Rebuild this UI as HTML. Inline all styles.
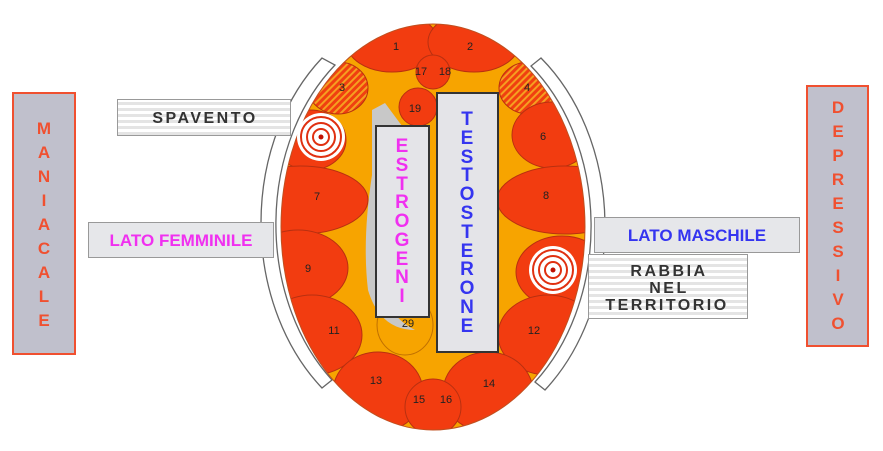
<!DOCTYPE html>
<html><head><meta charset="utf-8"><style>
html,body{margin:0;padding:0;background:#fff;}
svg{display:block;font-family:"Liberation Sans","DejaVu Sans",sans-serif;}
</style></head><body>
<svg width="883" height="451" viewBox="0 0 883 451" xmlns="http://www.w3.org/2000/svg">
<defs>
<clipPath id="ov"><ellipse cx="433" cy="227" rx="152" ry="203"/></clipPath>
<pattern id="stripe" width="6" height="6" patternUnits="userSpaceOnUse"><rect width="6" height="6" fill="#fff"/><rect y="0" width="6" height="3" fill="#e4e4e4"/></pattern>
<pattern id="hatch" width="5" height="5" patternUnits="userSpaceOnUse" patternTransform="rotate(45)"><rect width="5" height="5" fill="#f04010"/><rect width="2" height="5" fill="#f5a020"/></pattern>
</defs>
<path d="M322,58 A170,215 0 0 0 322,388 L332,380 A160,205 0 0 1 335,65 Z" fill="#fff" stroke="#666" stroke-width="1.3"/>
<path d="M541,58 A170,215 0 0 1 545,390 L535,382 A160,205 0 0 0 531,66 Z" fill="#fff" stroke="#666" stroke-width="1.3"/>
<ellipse cx="433" cy="227" rx="152" ry="203" fill="#f7a400"/>
<g clip-path="url(#ov)" fill="#f23c10" stroke="#b83010" stroke-width="1">
<ellipse cx="392" cy="42" rx="46" ry="30"/>
<ellipse cx="474" cy="42" rx="46" ry="30"/>
<circle cx="433" cy="72" r="17"/>
<ellipse cx="338" cy="88" rx="30" ry="26" fill="url(#hatch)"/>
<ellipse cx="529" cy="88" rx="30" ry="26" fill="url(#hatch)"/>
<circle cx="418" cy="107" r="19"/>
<ellipse cx="310" cy="140" rx="36" ry="30"/>
<ellipse cx="552" cy="135" rx="40" ry="33"/>
<ellipse cx="300" cy="200" rx="68" ry="34"/>
<ellipse cx="565" cy="200" rx="68" ry="34"/>
<ellipse cx="298" cy="268" rx="50" ry="38"/>
<ellipse cx="562" cy="272" rx="46" ry="36"/>
<ellipse cx="312" cy="335" rx="50" ry="40"/>
<ellipse cx="548" cy="335" rx="50" ry="40"/>
<ellipse cx="378" cy="392" rx="45" ry="40"/>
<ellipse cx="488" cy="392" rx="45" ry="40"/>
<circle cx="433" cy="407" r="28"/>
</g>
<path d="M372,110 L385,103 L405,130 L380,250 Q375,310 415,330 Q380,330 368,290 Q362,240 372,175 Z" fill="#c8c8c8"/>
<ellipse cx="405" cy="325" rx="28" ry="30" fill="none" stroke="#c07000" stroke-width="1"/>
<ellipse cx="433" cy="227" rx="152" ry="203" fill="none" stroke="#c05020" stroke-width="1"/>
<g font-size="11" fill="#222" text-anchor="middle">
<text x="396" y="50">1</text><text x="470" y="50">2</text>
<text x="421" y="75">17</text><text x="445" y="75">18</text>
<text x="342" y="91">3</text><text x="527" y="91">4</text>
<text x="415" y="112">19</text><text x="543" y="140">6</text>
<text x="317" y="200">7</text><text x="546" y="199">8</text>
<text x="308" y="272">9</text><text x="334" y="334">11</text>
<text x="534" y="334">12</text><text x="408" y="327">29</text>
<text x="376" y="384">13</text><text x="489" y="387">14</text>
<text x="419" y="403">15</text><text x="446" y="403">16</text>
</g>
<g>
<circle cx="321" cy="137" r="24" fill="#fff"/>
<circle cx="321" cy="137" r="20" fill="none" stroke="#e03010" stroke-width="2"/>
<circle cx="321" cy="137" r="14" fill="none" stroke="#e03010" stroke-width="2"/>
<circle cx="321" cy="137" r="8" fill="none" stroke="#e03010" stroke-width="2"/>
<circle cx="321" cy="137" r="2.5" fill="#c01000"/>
<circle cx="553" cy="270" r="24" fill="#fff"/>
<circle cx="553" cy="270" r="20" fill="none" stroke="#e03010" stroke-width="2"/>
<circle cx="553" cy="270" r="14" fill="none" stroke="#e03010" stroke-width="2"/>
<circle cx="553" cy="270" r="8" fill="none" stroke="#e03010" stroke-width="2"/>
<circle cx="553" cy="270" r="2.5" fill="#c01000"/>
</g>
<rect x="376" y="126" width="53" height="191" fill="#e4e4e8" stroke="#333" stroke-width="2"/>
<rect x="437" y="93" width="61" height="259" fill="#e4e4e8" stroke="#333" stroke-width="2"/>
<g font-size="19" font-weight="bold" fill="#f030f0" text-anchor="middle">
<text x="402" y="152">E</text><text x="402" y="171">S</text><text x="402" y="190">T</text><text x="402" y="208">R</text><text x="402" y="227">O</text><text x="402" y="246">G</text><text x="402" y="265">E</text><text x="402" y="283">N</text><text x="402" y="302">I</text>
</g>
<g font-size="19" font-weight="bold" fill="#3535f0" text-anchor="middle">
<text x="467" y="125">T</text><text x="467" y="144">E</text><text x="467" y="163">S</text><text x="467" y="181">T</text><text x="467" y="200">O</text><text x="467" y="219">S</text><text x="467" y="238">T</text><text x="467" y="257">E</text><text x="467" y="275">R</text><text x="467" y="294">O</text><text x="467" y="313">N</text><text x="467" y="332">E</text>
</g>
<rect x="13" y="93" width="62" height="261" fill="#c0c0cc" stroke="#f05030" stroke-width="2"/>
<g font-size="17" font-weight="bold" fill="#f05030" text-anchor="middle">
<text x="44" y="134">M</text><text x="44" y="158">A</text><text x="44" y="182">N</text><text x="44" y="206">I</text><text x="44" y="230">A</text><text x="44" y="254">C</text><text x="44" y="278">A</text><text x="44" y="302">L</text><text x="44" y="326">E</text>
</g>
<rect x="807" y="86" width="61" height="260" fill="#c0c0cc" stroke="#f05030" stroke-width="2"/>
<g font-size="17" font-weight="bold" fill="#f05030" text-anchor="middle">
<text x="838" y="113">D</text><text x="838" y="137">E</text><text x="838" y="161">P</text><text x="838" y="185">R</text><text x="838" y="209">E</text><text x="838" y="233">S</text><text x="838" y="257">S</text><text x="838" y="281">I</text><text x="838" y="305">V</text><text x="838" y="329">O</text>
</g>
<rect x="117.5" y="99.5" width="173" height="36" fill="url(#stripe)" stroke="#999"/>
<text x="205" y="123" font-size="16" font-weight="bold" fill="#333" text-anchor="middle" letter-spacing="2.5">SPAVENTO</text>
<rect x="88.5" y="222.5" width="185" height="35" fill="#e6e7ea" stroke="#999"/>
<text x="181" y="246" font-size="17" font-weight="bold" fill="#f030f0" text-anchor="middle">LATO FEMMINILE</text>
<rect x="594.5" y="217.5" width="205" height="35" fill="#e6e7ea" stroke="#999"/>
<text x="697" y="241" font-size="17" font-weight="bold" fill="#3535f0" text-anchor="middle">LATO MASCHILE</text>
<rect x="588.5" y="254.5" width="159" height="64" fill="url(#stripe)" stroke="#999"/>
<g font-size="16" font-weight="bold" fill="#333" text-anchor="middle" letter-spacing="2.5">
<text x="669" y="276">RABBIA</text><text x="669" y="293">NEL</text><text x="667" y="310">TERRITORIO</text>
</g>
</svg>
</body></html>
